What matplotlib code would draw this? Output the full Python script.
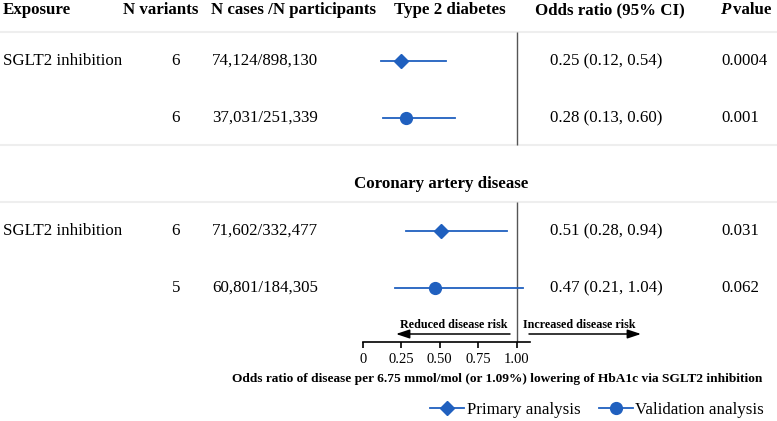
import matplotlib
matplotlib.use("Agg")
import matplotlib.pyplot as plt
from matplotlib.lines import Line2D

plt.rcParams["font.family"] = ["Liberation Serif", "DejaVu Serif"]

# data
outcomes = ["Type 2 diabetes", "Coronary artery disease"]
exposures = ["SGLT2 inhibition", "", "SGLT2 inhibition", ""]
n_variants = [6, 6, 6, 5]
n_cases = ["74,124/898,130", "37,031/251,339", "71,602/332,477", "60,801/184,305"]
odds = [0.25, 0.28, 0.51, 0.47]
ci_low = [0.12, 0.13, 0.28, 0.21]
ci_high = [0.54, 0.60, 0.94, 1.04]
p_values = ["0.0004", "0.001", "0.031", "0.062"]
analysis = ["Primary", "Validation", "Primary", "Validation"]
tick_vals = [0, 0.25, 0.5, 0.75, 1.0]
tick_labels = ["0", "0.25", "0.50", "0.75", "1.00"]

BLUE = "#2060bf"
W, H = 777, 421
row_y = [61, 118, 231, 288]   # pixel rows
markers = {"Primary": "D", "Validation": "o"}
msize = {"Primary": 7, "Validation": 8.5}

fig = plt.figure(figsize=(W / 100, H / 100), dpi=100)

# background axes in pixel coords for the table text
bg = fig.add_axes([0, 0, 1, 1])
bg.set_xlim(0, W)
bg.set_ylim(H, 0)
bg.axis("off")

# forest axes: x=0 at 363px, 1 unit = 153.5px, y in pixels from top
x0, scale = 363, 153.5
xmax = 1.09
ax_bottom = 342
ax = fig.add_axes([x0 / W, (H - ax_bottom) / H, xmax * scale / W, ax_bottom / H])
ax.set_xlim(0, xmax)
ax.set_ylim(ax_bottom, 0)
ax.patch.set_alpha(0)
for s in ["top", "left", "right"]:
    ax.spines[s].set_visible(False)
ax.spines["bottom"].set_linewidth(1.2)
ax.set_yticks([])
ax.set_xticks(tick_vals)
ax.set_xticklabels(tick_labels, fontsize=10.5)
ax.tick_params(axis="x", direction="out", length=4, width=1.2, pad=4)

# header
hdr = dict(fontsize=12.2, fontweight="bold", va="center")
bg.text(3, 10, "Exposure", ha="left", **hdr)
bg.text(161, 10, "N variants", ha="center", **hdr)
bg.text(211, 10, "N cases /N participants", ha="left", **hdr)
bg.text(450, 10, outcomes[0], ha="center", **hdr)
bg.text(610, 10, "Odds ratio (95% CI)", ha="center", **hdr)
bg.text(720, 10, "P", ha="left", fontstyle="italic", **hdr)
bg.text(733, 10, "value", ha="left", **hdr)
bg.text(441, 184, outcomes[1], ha="center", **hdr)

# light separators
for yy in [32, 145, 202]:
    bg.axhline(yy, color="#eeeeee", lw=1.5, zorder=0)

# vertical null line, broken around the second outcome title
ax.vlines(1.0, 32, 145, color="#555555", lw=1)
ax.vlines(1.0, 202, ax_bottom, color="#555555", lw=1)

for i, y in enumerate(row_y):
    txt = dict(fontsize=12.2, va="center")
    bg.text(3, y, exposures[i], ha="left", **txt)
    bg.text(176, y, str(n_variants[i]), ha="center", **txt)
    bg.text(212, y, n_cases[i], ha="left", **txt)
    bg.text(550, y, f"{odds[i]:.2f} ({ci_low[i]:.2f}, {ci_high[i]:.2f})", ha="left", **txt)
    bg.text(721, y, p_values[i], ha="left", **txt)
    ax.plot([ci_low[i], ci_high[i]], [y, y], color=BLUE, lw=1.3, clip_on=False)
    ax.plot(odds[i], y, marker=markers[analysis[i]], ms=msize[analysis[i]],
            color=BLUE, clip_on=False, zorder=3)

# direction arrows
arr = dict(arrowstyle="-|>,head_length=0.9,head_width=0.3", color="black", lw=1.1,
           mutation_scale=9, shrinkA=0, shrinkB=0)
bg.annotate("", xy=(396, 334), xytext=(510, 334), arrowprops=arr)
bg.annotate("", xy=(641, 334), xytext=(529, 334), arrowprops=arr)
bg.text(508, 325, "Reduced disease risk", ha="right", va="center",
        fontsize=8.7, fontweight="bold")
bg.text(523, 325, "Increased disease risk", ha="left", va="center",
        fontsize=8.7, fontweight="bold")

bg.text(497, 379, "Odds ratio of disease per 6.75 mmol/mol (or 1.09%) lowering of HbA1c via SGLT2 inhibition",
        ha="center", va="center", fontsize=9.6, fontweight="bold")

handles = [
    Line2D([], [], color=BLUE, lw=1.3, marker="D", ms=7, label="Primary analysis"),
    Line2D([], [], color=BLUE, lw=1.3, marker="o", ms=8.5, label="Validation analysis"),
]
fig.legend(handles=handles, loc="center right", bbox_to_anchor=(764 / W, (H - 410) / H),
           ncol=2, frameon=False, fontsize=12.2, handlelength=2.0, handletextpad=0.15,
           columnspacing=1.1, borderaxespad=0, borderpad=0)

fig.savefig("out.png", dpi=100)
